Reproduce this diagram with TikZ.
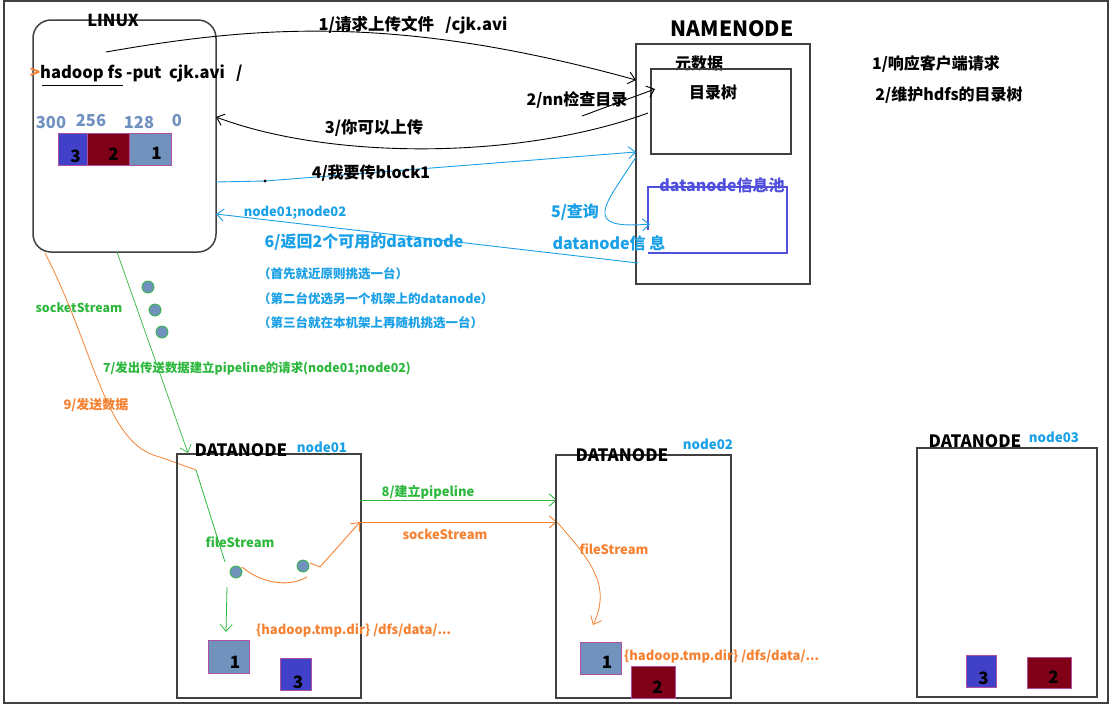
\documentclass[tikz,border=0pt]{standalone}
\usepackage{fontspec}
\setmainfont{Noto Sans CJK SC}
\usetikzlibrary{arrows.meta}
\definecolor{blkA}{HTML}{7192BD}
\definecolor{blkB}{HTML}{800018}
\definecolor{blkC}{HTML}{4040C8}
\definecolor{blkE}{HTML}{B050A0}
\definecolor{sky}{HTML}{1AA0E6}
\definecolor{grn}{HTML}{2DB83D}
\definecolor{org}{HTML}{F58232}
\definecolor{pool}{HTML}{5050DC}
\definecolor{num}{HTML}{7090C0}
\definecolor{frm}{HTML}{404040}
\newcommand{\fs}[1]{\fontsize{#1}{#1}\selectfont}
\begin{document}
\begin{tikzpicture}[x=1pt,y=-1pt,
  txt/.style={inner sep=0pt,font=\bfseries\fs{16}},
  box/.style={draw=frm,line width=1.5pt},
  blk/.style={draw=blkE,line width=1pt,inner sep=0pt,anchor=north west},
  bnum/.style={inner sep=0pt,font=\bfseries\fs{17},text=black},
  arr/.style={line width=0.9pt,-{Straight Barb[length=7pt,width=12pt]}},
  dot/.style={circle,fill=blkA,draw=grn,line width=0.8pt,inner sep=0pt,minimum size=12pt}]
\useasboundingbox (0,0) rectangle (1113,705);
\draw[line width=1.5pt,frm] (4,1) rectangle (1108,703);

% LINUX
\draw[box,rounded corners=18pt] (33,20) rectangle (216,252);
\node[txt,font=\bfseries\fs{16.5}] (linux) at (113,20) {LINUX};
\node[txt,anchor=west,font=\bfseries\fs{16.5}] (cmd) at (30,73) {{\color{org}>}hadoop fs -put\ \ cjk.avi\ \ \ /};
\coordinate (ul1) at (42,85); \coordinate (ul2) at (123,85);
\draw[line width=1pt] (ul1) -- (ul2);
\node[txt,text=num,font=\bfseries\fs{16.5}] (n300) at (51,123) {300};
\node[txt,text=num,font=\bfseries\fs{16.5}] (n256) at (91,121) {256};
\node[txt,text=num,font=\bfseries\fs{16.5}] (n128) at (139,123) {128};
\node[txt,text=num,font=\bfseries\fs{16.5}] (n0) at (177,121) {0};
\node[blk,fill=blkC,minimum width=29pt,minimum height=32pt] (L3) at (58,133) {};
\node[blk,fill=blkB,minimum width=42pt,minimum height=32pt] (L2) at (87,133) {};
\node[blk,fill=blkA,minimum width=42pt,minimum height=32pt] (L1) at (129,133) {};
\node[bnum] (L3t) at ([shift={(2.5,7)}]L3.center) {3};
\node[bnum] (L2t) at ([shift={(5,5)}]L2.center) {2};
\node[bnum] (L1t) at ([shift={(6,4)}]L1.center) {1};

% NAMENODE
\node[txt,font=\bfseries\fs{21}] (nnt) at (732,29) {NAMENODE};
\draw[box] (636,44) rectangle (810,284);
\node[txt] (meta) at (699,63) {元数据};
\draw[box,line width=1.3pt] (651,69) rectangle (791,154);
\node[txt] (tree) at (713,92) {目录树};
\draw[pool,line width=1.2pt] (648,230) -- (648,187) -- (787,187) -- (787,253) -- (648,253);
\node[txt,text=pool] (poolt) at (722,185) {datanode信息池};
\node[txt] (r1) at (936,64) {1/响应客户端请求};
\node[txt] (r2) at (949,95) {2/维护hdfs的目录树};

% step 1
\coordinate (c1s) at (106,52); \coordinate (c1e) at (636,80);
\draw[arr] (c1s) .. controls (260,25) and (400,15) .. (c1e);
\node[txt,font=\bfseries\fs{16.5}] (t1) at (413,25) {1/请求上传文件\ \ \ /cjk.avi};
% step 2
\coordinate (c2s) at (582,116); \coordinate (c2e) at (655,89);
\draw[arr] (c2s) -- (c2e);
\node[txt] (t2) at (577,100) {2/nn检查目录};
% step 3
\coordinate (c3s) at (648,113); \coordinate (c3e) at (216,117);
\draw[arr] (c3s) .. controls (520,160) and (330,160) .. (c3e);
\node[txt,font=\bfseries\fs{16.4}] (t3) at (374,128) {3/你可以上传};
% step 4
\coordinate (c4s) at (216,182); \coordinate (c4m) at (265,181); \coordinate (c4e) at (636,152);
\draw[arr,sky] (c4s) -- (c4m) -- (c4e);
\fill (c4m) circle (1.6pt);
\node[txt] (t4) at (371,173) {4/我要传block1};
% step 5
\coordinate (c5s) at (636,157); \coordinate (c5e) at (650,224);
\draw[arr,sky] (c5s) .. controls (605,205) and (580,230) .. (c5e);
\node[txt,text=sky] (t5) at (575,212) {5/查询};
\node[txt,text=sky] (t5b) at (609,243) {datanode信\ 息};
% step 6
\coordinate (c6s) at (638,263); \coordinate (c6e) at (216,214);
\draw[arr,sky] (c6s) -- (c6e);
\node[txt,text=sky,font=\bfseries\fs{13}] (t6a) at (295,213) {node01;node02};
\node[txt,text=sky] (t6b) at (364,242) {6/返回2个可用的datanode};
\node[txt,text=sky,font=\bfseries\fs{12.5},anchor=west] (p1) at (258,274) {（首先就近原则挑选一台）};
\node[txt,text=sky,font=\bfseries\fs{12.5},anchor=west] (p2) at (258,299) {（第二台优选另一个机架上的datanode）};
\node[txt,text=sky,font=\bfseries\fs{12.5},anchor=west] (p3) at (258,323) {（第三台就在本机架上再随机挑选一台）};

% dots between
\node[dot] (d1) at (148,287) {};
\node[dot] (d2) at (155,310) {};
\node[dot] (d3) at (162,332) {};

% step 7 and 9
\coordinate (c7s) at (117,252); \coordinate (c7e) at (188,453);
\draw[arr,grn,line width=0.7pt] (c7s) -- (c7e);
\node[txt,text=grn,font=\bfseries\fs{12.4}] (ss) at (79,308) {socketStream};
\node[txt,text=grn,font=\bfseries\fs{12.4}] (t7) at (257,369) {7/发出传送数据建立pipeline的请求(node01;node02)};
\coordinate (c9s) at (45,253); \coordinate (c9e) at (196,470);
\draw[org,line width=0.8pt] (c9s) .. controls (95,350) and (105,445) .. (160,457) -- (c9e);
\node[txt,text=org,font=\bfseries\fs{13}] (t9) at (96,405) {9/发送数据};

% DATANODE node01
\draw[box] (177,454) rectangle (361,698);
\node[txt,font=\bfseries\fs{17}] (dn1) at (241,450) {DATANODE};
\node[txt,text=sky,font=\bfseries\fs{13.3}] (n01) at (322,447) {node01};
\coordinate (f1s) at (225,562);
\draw[grn,line width=0.8pt] (c9e) -- (f1s);
\coordinate (f2s) at (227,587); \coordinate (f2e) at (226,632);
\draw[arr,grn,line width=0.8pt] (f2s) -- (f2e);
\node[txt,text=grn,font=\bfseries\fs{13}] (fs1) at (240,542) {fileStream};
\node[dot] (e1) at (236,572) {};
\node[dot] (e2) at (303,566) {};
\draw[org,line width=0.9pt] (242,567) .. controls (265,586) and (292,586) .. (307,577);
\coordinate (o1) at (310,563); \coordinate (o2) at (320,567); \coordinate (o3) at (360,522);
\draw[arr,org] (o1) -- (o2) -- (o3);
\coordinate (o4) at (557,522);
\draw[arr,org] (o3) -- (o4);
\node[txt,text=org,font=\bfseries\fs{13}] (sk) at (445,534) {sockeStream};
\coordinate (g1) at (360,500); \coordinate (g2) at (557,500);
\draw[arr,grn] (g1) -- (g2);
\node[txt,text=grn,font=\bfseries\fs{13}] (t8) at (428,492) {8/建立pipeline};
\node[blk,fill=blkA,minimum width=41pt,minimum height=33pt] (A1) at (208,640) {};
\node[blk,fill=blkC,minimum width=31pt,minimum height=32pt] (A3) at (280,658) {};
\node[bnum] (A1t) at ([shift={(6,5)}]A1.center) {1};
\node[bnum] (A3t) at ([shift={(2,8)}]A3.center) {3};
\node[txt,text=org,font=\bfseries\fs{13},anchor=west] (hp1) at (256,630) {\{hadoop.tmp.dir\} /dfs/data/...};

% DATANODE node02
\draw[box] (556,455) rectangle (731,698);
\node[txt,font=\bfseries\fs{17}] (dn2) at (622,455) {DATANODE};
\node[txt,text=sky,font=\bfseries\fs{13.3}] (n02) at (708,444) {node02};
\coordinate (q1) at (557,522); \coordinate (q2) at (593,625);
\draw[arr,org,line width=0.8pt] (q1) .. controls (590,560) and (612,585) .. (q2);
\node[txt,text=org,font=\bfseries\fs{13}] (fs2) at (614,549) {fileStream};
\node[blk,fill=blkA,minimum width=41pt,minimum height=32pt] (B1) at (580,642) {};
\node[blk,fill=blkB,minimum width=44pt,minimum height=32pt] (B2) at (631,666) {};
\node[bnum] (B1t) at ([shift={(6,4)}]B1.center) {1};
\node[bnum] (B2t) at ([shift={(4,5)}]B2.center) {2};
\node[txt,text=org,font=\bfseries\fs{13},anchor=west] (hp2) at (624,656) {\{hadoop.tmp.dir\} /dfs/data/...};

% DATANODE node03
\draw[box] (917,448) rectangle (1097,697);
\node[txt,font=\bfseries\fs{17}] (dn3) at (975,441) {DATANODE};
\node[txt,text=sky,font=\bfseries\fs{13.3}] (n03) at (1054,437) {node03};
\node[blk,fill=blkC,minimum width=30pt,minimum height=32pt] (C3) at (966,655) {};
\node[blk,fill=blkB,minimum width=44pt,minimum height=31pt] (C2) at (1027,657) {};
\node[bnum] (C3t) at ([shift={(2,7)}]C3.center) {3};
\node[bnum] (C2t) at ([shift={(4,4)}]C2.center) {2};
\end{tikzpicture}
\end{document}
